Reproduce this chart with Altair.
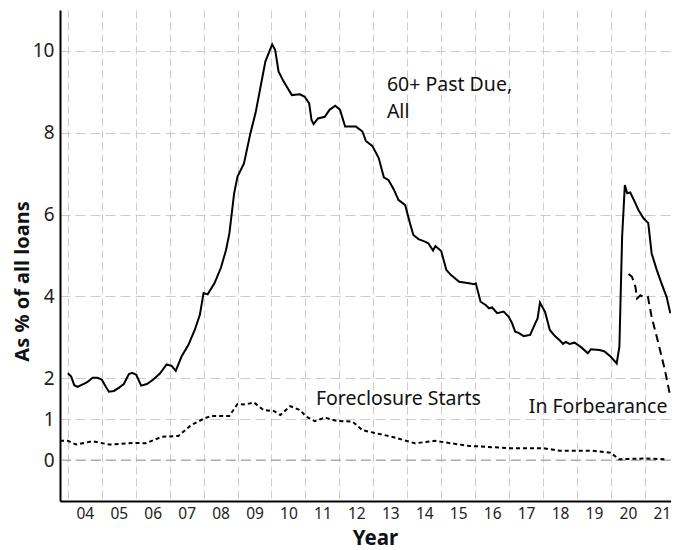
import altair as alt
import pandas as pd

# 60+ Past Due, All (as % of all loans)
pd_years = [2004.00, 2004.10, 2004.19, 2004.29, 2004.39, 2004.49, 2004.58, 2004.73, 2004.87, 2005.00,
            2005.12, 2005.21, 2005.36, 2005.51, 2005.65, 2005.80, 2005.90, 2006.02, 2006.16, 2006.33,
            2006.52, 2006.72, 2006.91, 2007.06, 2007.18, 2007.35, 2007.55, 2007.74, 2007.89, 2008.00,
            2008.12, 2008.32, 2008.51, 2008.66, 2008.76, 2008.90, 2009.00, 2009.19, 2009.38, 2009.53,
            2009.68, 2009.82, 2010.02, 2010.11, 2010.21, 2010.36, 2010.60, 2010.84, 2010.98, 2011.11,
            2011.18, 2011.24, 2011.37, 2011.57, 2011.71, 2011.88, 2012.02, 2012.17, 2012.49, 2012.68,
            2012.78, 2012.97, 2013.16, 2013.31, 2013.45, 2013.60, 2013.74, 2013.94, 2014.08, 2014.18,
            2014.33, 2014.52, 2014.62, 2014.76, 2014.83, 2015.00, 2015.15, 2015.29, 2015.53, 2015.82,
            2015.97, 2016.02, 2016.16, 2016.31, 2016.41, 2016.50, 2016.65, 2016.84, 2016.99, 2017.09,
            2017.18, 2017.28, 2017.43, 2017.62, 2017.77, 2017.84, 2017.91, 2018.06, 2018.20, 2018.35,
            2018.49, 2018.59, 2018.67, 2018.78, 2018.93, 2019.12, 2019.32, 2019.41, 2019.66, 2019.80,
            2019.99, 2020.17, 2020.25, 2020.33, 2020.41, 2020.48, 2020.57, 2020.72, 2020.81, 2020.96,
            2021.10, 2021.20, 2021.35, 2021.49, 2021.64, 2021.75]
pd_values = [2.12, 2.04, 1.83, 1.79, 1.83, 1.87, 1.91, 2.01, 2.01, 1.97,
             1.79, 1.67, 1.69, 1.77, 1.86, 2.10, 2.13, 2.08, 1.82, 1.86,
             1.97, 2.12, 2.34, 2.30, 2.18, 2.53, 2.81, 3.18, 3.55, 4.08,
             4.05, 4.32, 4.70, 5.13, 5.54, 6.52, 6.93, 7.25, 7.99, 8.48,
             9.13, 9.74, 10.16, 10.02, 9.49, 9.25, 8.92, 8.94, 8.88, 8.72,
             8.31, 8.21, 8.35, 8.39, 8.56, 8.66, 8.56, 8.15, 8.15, 8.03,
             7.80, 7.68, 7.38, 6.91, 6.84, 6.62, 6.36, 6.23, 5.79, 5.50,
             5.40, 5.34, 5.30, 5.12, 5.23, 5.11, 4.65, 4.52, 4.36, 4.32,
             4.30, 4.32, 3.87, 3.79, 3.71, 3.73, 3.59, 3.63, 3.50, 3.34,
             3.14, 3.11, 3.03, 3.06, 3.34, 3.46, 3.85, 3.62, 3.18, 3.03,
             2.93, 2.84, 2.89, 2.84, 2.87, 2.76, 2.61, 2.71, 2.69, 2.66,
             2.53, 2.36, 2.77, 5.46, 6.72, 6.52, 6.54, 6.28, 6.11, 5.91,
             5.79, 5.05, 4.65, 4.32, 3.99, 3.59]

# Foreclosure Starts
fc_years = [2003.77, 2004.00, 2004.24, 2004.73, 2005.22, 2006.00, 2006.29, 2006.77, 2007.26, 2007.64,
            2008.03, 2008.22, 2008.76, 2009.00, 2009.24, 2009.48, 2009.77, 2010.07, 2010.26, 2010.55,
            2010.84, 2011.03, 2011.28, 2011.57, 2011.90, 2012.39, 2012.68, 2013.55, 2014.23, 2014.81,
            2015.78, 2017.04, 2018.01, 2018.49, 2019.46, 2019.99, 2020.24, 2021.01, 2021.60]
fc_values = [0.47, 0.47, 0.38, 0.46, 0.38, 0.42, 0.41, 0.57, 0.59, 0.86,
             1.02, 1.08, 1.08, 1.37, 1.36, 1.41, 1.22, 1.20, 1.10, 1.32,
             1.22, 1.06, 0.95, 1.04, 0.96, 0.94, 0.73, 0.57, 0.41, 0.47,
             0.35, 0.29, 0.29, 0.23, 0.23, 0.18, 0.02, 0.04, 0.02]

# In Forbearance
fb_years = [2020.52, 2020.62, 2020.72, 2020.77, 2020.87, 2020.96, 2021.09, 2021.20, 2021.40, 2021.59, 2021.75]
fb_values = [4.55, 4.48, 4.24, 3.95, 4.03, 3.98, 3.99, 3.50, 2.85, 2.20, 1.55]

# Series labels
label_text = ["60+ Past Due,", "All", "Foreclosure Starts", "In Forbearance"]
label_x = [2013.40, 2013.40, 2011.31, 2017.58]
label_y = [9.17, 8.51, 1.49, 1.29]

year_ticks = list(range(2004, 2022))
y_ticks = [0, 1, 2, 4, 6, 8, 10]

FONT = "Noto Sans"
x_scale = alt.Scale(domain=[2003.77, 2021.77], nice=False, zero=False)
y_scale = alt.Scale(domain=[-1, 11], nice=False, zero=False)

df_pd = pd.DataFrame({"year": pd_years, "value": pd_values})
df_fc = pd.DataFrame({"year": fc_years, "value": fc_values})
df_fb = pd.DataFrame({"year": fb_years, "value": fb_values})
df_lab = pd.DataFrame({"year": label_x, "value": label_y, "text": label_text})
df_zero = pd.DataFrame({"value": [0]})

x_axis = alt.Axis(
    title="Year", values=year_ticks, grid=True, gridDash=[8, 4], gridColor="#cccccc",
    gridWidth=1, ticks=False, labelOffset=17, labelFlush=False, labelOverlap=False,
    labelBound=False,
    labelExpr="(floor(datum.value) % 100 < 10 ? '0' : '') + (floor(datum.value) % 100)",
    labelFontSize=15.5, labelPadding=5, titleFontSize=20.5, titleFontWeight="bold",
    titlePadding=7, titleX=315, domainColor="#000000", domainWidth=2, labelColor="#222222",
    titleColor="#111111", labelFont=FONT, titleFont=FONT,
)
y_axis = alt.Axis(
    title="As % of all loans", values=y_ticks, grid=True, gridDash=[10, 5], gridColor="#cccccc",
    gridWidth=1, ticks=False, labelFontSize=19, labelPadding=6, labelOverlap=False,
    titleFontSize=20, titleFontWeight="bold", titleX=-38, titleY=271,
    titleBaseline="middle", titleAngle=270,
    domainColor="#000000", domainWidth=2,
    labelColor="#222222", titleColor="#111111", labelFont=FONT, titleFont=FONT,
)

X = alt.X("year:Q", scale=x_scale, axis=x_axis)
Y = alt.Y("value:Q", scale=y_scale, axis=y_axis)

zero_rule = alt.Chart(df_zero).mark_rule(color="#999999", strokeDash=[10, 5], strokeWidth=1).encode(
    y=Y
)
line_pd = alt.Chart(df_pd).mark_line(color="#000000", strokeWidth=2, clip=True).encode(
    x=X, y=Y, order="year:Q"
)
line_fc = alt.Chart(df_fc).mark_line(color="#000000", strokeWidth=2, strokeDash=[4, 3], clip=True).encode(
    x=X, y=Y, order="year:Q"
)
line_fb = alt.Chart(df_fb).mark_line(color="#000000", strokeWidth=2, strokeDash=[8, 5], clip=True).encode(
    x=X, y=Y, order="year:Q"
)
labels = alt.Chart(df_lab).mark_text(
    align="left", baseline="middle", fontSize=19.5, font=FONT, color="#111111"
).encode(
    x=X, y=Y, text="text:N"
)

chart = alt.layer(zero_rule, line_pd, line_fc, line_fb, labels).properties(
    width=611, height=491,
    autosize=alt.AutoSizeParams(type="none"),
    padding={"left": 52, "top": 2, "right": 0, "bottom": 49},
    background="white",
).configure_view(stroke=None).configure_axis(labelOverlap=False)

chart.save("out.html", embed_options={"renderer": "svg", "actions": False})
